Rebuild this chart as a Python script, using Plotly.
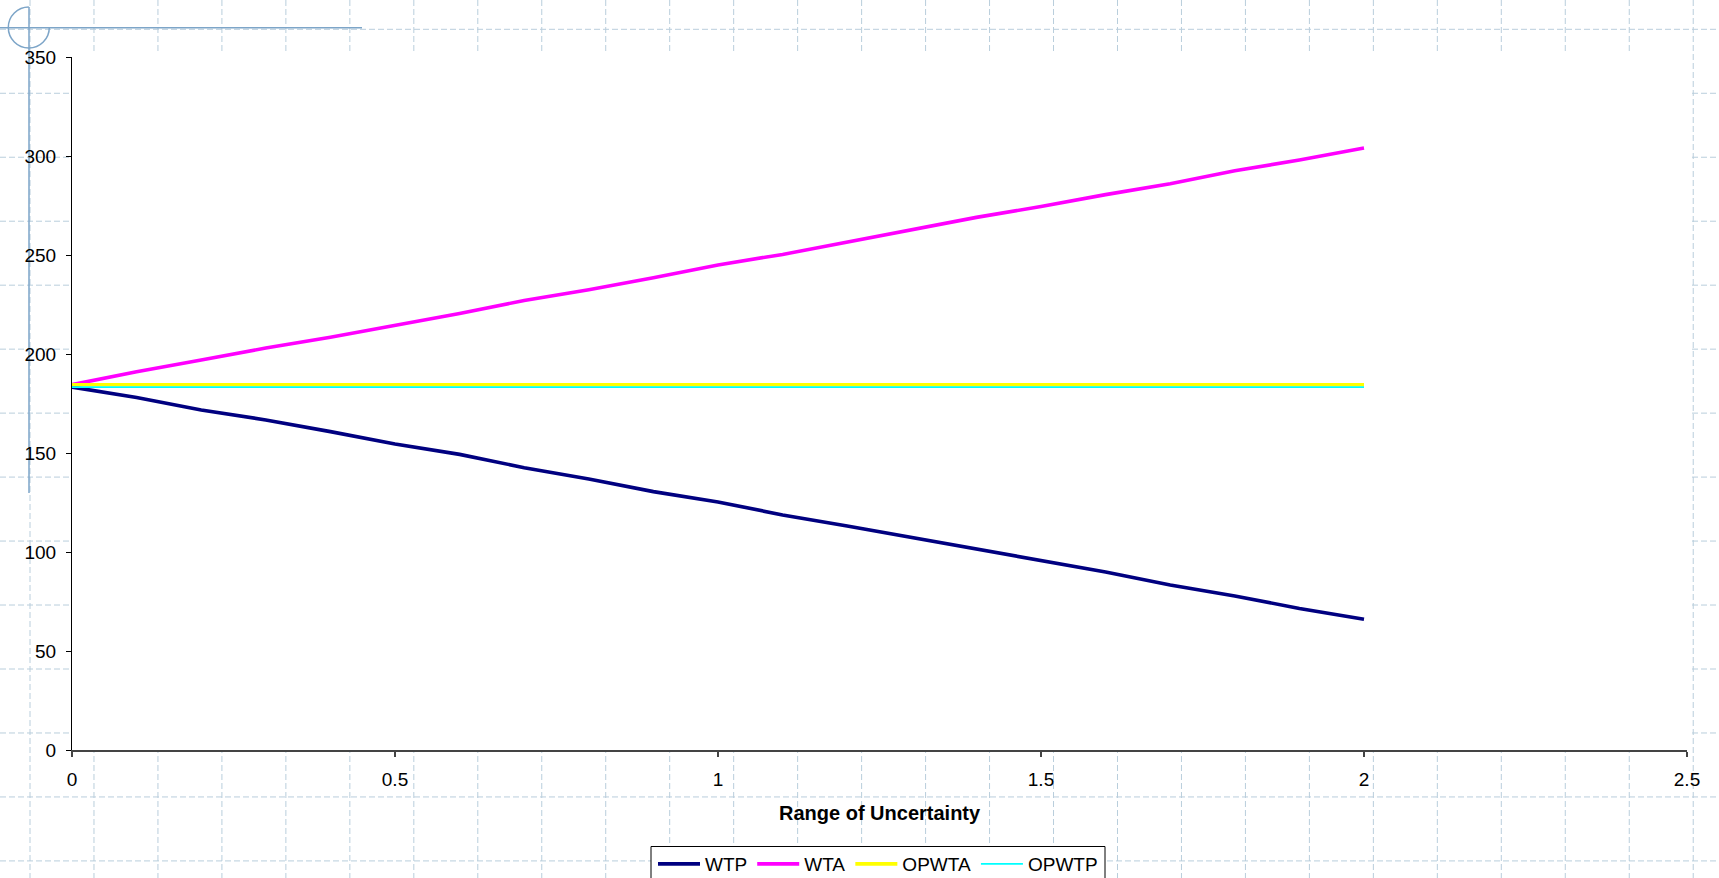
import plotly.graph_objects as go

# Range of uncertainty (x) and the four series
uncertainty = [0.0, 0.1, 0.2, 0.3, 0.4, 0.5, 0.6, 0.7, 0.8, 0.9, 1.0,
               1.1, 1.2, 1.3, 1.4, 1.5, 1.6, 1.7, 1.8, 1.9, 2.0]
wtp = [183.3, 178.0, 171.7, 166.7, 160.8, 154.5, 149.3, 142.6, 136.9, 130.5, 125.3,
       118.7, 113.1, 107.2, 101.4, 95.5, 89.9, 83.3, 77.8, 71.5, 66.0]
wta = [184.5, 191.0, 197.0, 203.0, 208.5, 214.5, 220.5, 227.0, 232.5, 238.5, 245.0,
       250.3, 256.5, 262.5, 269.0, 274.5, 280.5, 286.0, 292.5, 298.0, 304.0]
opwta = [184.5] * len(uncertainty)
opwtp = [183.3] * len(uncertainty)

x_ticks = [0, 0.5, 1, 1.5, 2, 2.5]
y_ticks = [0, 50, 100, 150, 200, 250, 300, 350]

W, H = 1719, 878
L, R, T, B = 72, 32, 57, 128
PW, PH = W - L - R, H - T - B
FONT = "Arial, Liberation Sans, sans-serif"


def px_x(px):
    return (px - L) / PW


def px_y(py):
    return (H - B - py) / PH


fig = go.Figure()

series = [
    ("WTP", wtp, "#000080", 3.6),
    ("WTA", wta, "#FF00FF", 3.6),
    ("OPWTA", opwta, "#FFFF00", 3.6),
    ("OPWTP", opwtp, "#00FFFF", 1.8),
]
for name, vals, color, width in series:
    fig.add_trace(go.Scatter(x=uncertainty, y=vals, name=name, mode="lines",
                             line=dict(color=color, width=width)))

# Page-layout grid behind the chart (dashed, light blue)
shapes = []
grid_col = "rgb(185,206,220)"
step = 63.97
gx = 30.0
while gx < W:
    shapes.append(dict(type="line", xref="paper", yref="paper", layer="below",
                       x0=px_x(gx), x1=px_x(gx), y0=px_y(0), y1=px_y(H),
                       line=dict(color=grid_col, width=1, dash="6px,3px")))
    gx += step
gy = 29.3
while gy < H:
    shapes.append(dict(type="line", xref="paper", yref="paper", layer="below",
                       x0=px_x(0), x1=px_x(W), y0=px_y(gy), y1=px_y(gy),
                       line=dict(color=grid_col, width=1, dash="6px,3px")))
    gy += step

# White plot area on top of the page grid
shapes.append(dict(type="rect", xref="paper", yref="paper", layer="below",
                   x0=px_x(70), x1=px_x(1691), y0=px_y(752), y1=px_y(52),
                   fillcolor="white", line=dict(width=0)))

# Legend frame
shapes.append(dict(type="rect", xref="paper", yref="paper", layer="below",
                   x0=px_x(651), x1=px_x(1105), y0=px_y(H + 10), y1=px_y(846.5),
                   fillcolor="white", line=dict(color="black", width=1)))

# Chart-selection crosshair marker in the top-left corner
sel_col = "rgb(125,165,200)"
shapes.append(dict(type="line", xref="paper", yref="paper", layer="below",
                   x0=px_x(0), x1=px_x(362), y0=px_y(27.7), y1=px_y(27.7),
                   line=dict(color=sel_col, width=1.5)))
shapes.append(dict(type="line", xref="paper", yref="paper", layer="below",
                   x0=px_x(29), x1=px_x(29), y0=px_y(7), y1=px_y(493),
                   line=dict(color=sel_col, width=1.5)))
cx, cy, r = 28.8, 27.5, 20.5
p = lambda a, b: f"{px_x(a)},{px_y(b)}"
path = (f"M{p(cx, cy - r)} "
        f"C{p(cx - r * 0.552, cy - r)} {p(cx - r, cy - r * 0.552)} {p(cx - r, cy)} "
        f"C{p(cx - r, cy + r * 0.552)} {p(cx - r * 0.552, cy + r)} {p(cx, cy + r)} "
        f"C{p(cx + r * 0.552, cy + r)} {p(cx + r, cy + r * 0.552)} {p(cx + r, cy)}")
shapes.append(dict(type="path", xref="paper", yref="paper", layer="below",
                   path=path, line=dict(color=sel_col, width=1.5)))

fig.update_layout(
    width=W, height=H,
    margin=dict(l=L, r=R, t=T, b=B, autoexpand=False),
    paper_bgcolor="white",
    plot_bgcolor="rgba(0,0,0,0)",
    font=dict(family=FONT, size=19, color="black"),
    shapes=shapes,
    showlegend=True,
    legend=dict(orientation="h", x=px_x(653), xanchor="left",
                y=px_y(845), yanchor="top",
                bgcolor="rgba(0,0,0,0)", borderwidth=0,
                font=dict(family=FONT, size=19, color="black"),
                itemwidth=42, tracegroupgap=0),
    annotations=[dict(text="<b>Range of Uncertainty</b>", xref="paper", yref="paper",
                      x=0.5, y=px_y(813), xanchor="center", yanchor="middle",
                      showarrow=False, font=dict(family=FONT, size=20, color="black"))],
)

fig.update_xaxes(range=[0, 2.5], tickvals=x_ticks, ticktext=[str(v) for v in x_ticks],
                 showgrid=False, zeroline=False, showline=True,
                 linecolor="#444444", linewidth=2, ticks="outside", ticklen=5,
                 tickwidth=2, tickcolor="#444444", ticklabelstandoff=6)
fig.update_yaxes(range=[0, 350], tickvals=y_ticks,
                 showgrid=False, zeroline=False, showline=True,
                 linecolor="black", linewidth=1, ticks="outside", ticklen=5,
                 tickwidth=1, tickcolor="black", ticklabelstandoff=6)

fig.write_html("out.html")
